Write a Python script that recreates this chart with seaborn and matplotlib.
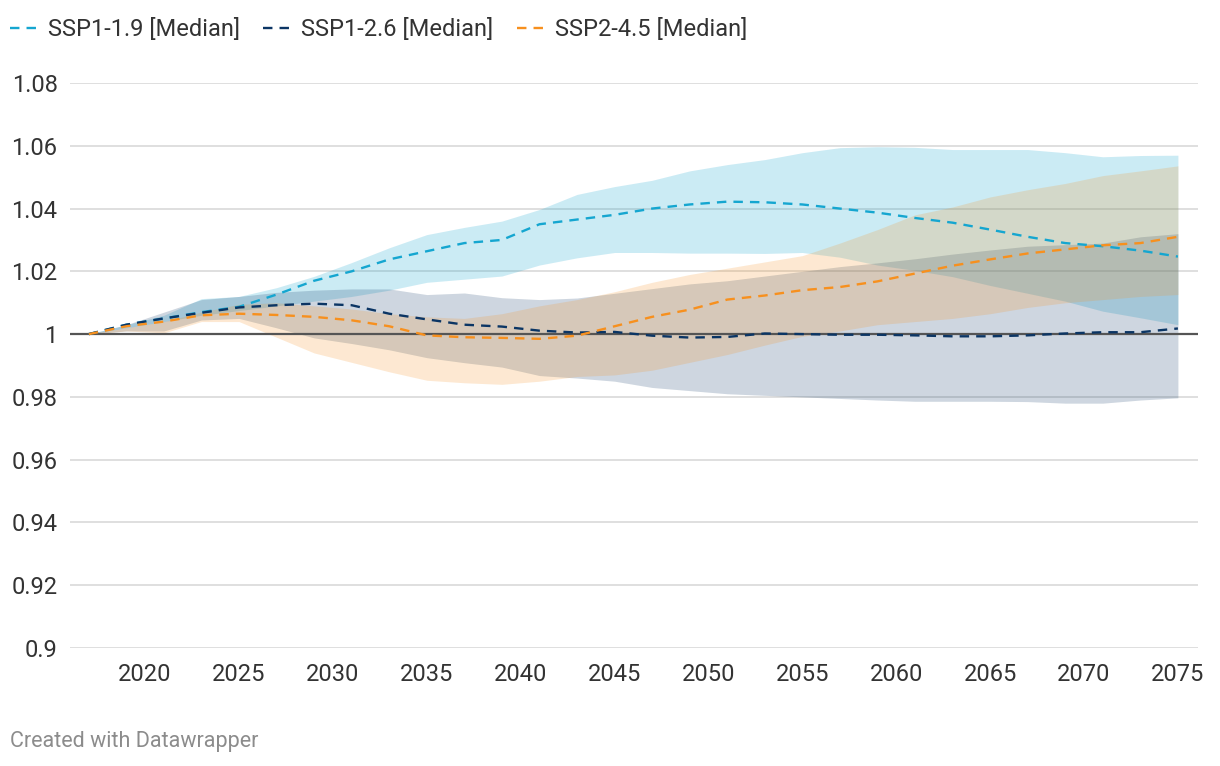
import numpy as np
import pandas as pd
import seaborn as sns
import matplotlib
matplotlib.use('Agg')
import matplotlib.pyplot as plt
from matplotlib.lines import Line2D
from matplotlib.ticker import FuncFormatter

# データ（2年おきに読み取り）
years = list(range(2017, 2076, 2))

ssp119_med = [1.000, 1.003, 1.005, 1.007, 1.0087, 1.0126, 1.017, 1.020, 1.0238, 1.0264,
              1.029, 1.030, 1.035, 1.0365, 1.038, 1.040, 1.0413, 1.0422, 1.042, 1.0413,
              1.040, 1.0387, 1.037, 1.0355, 1.0333, 1.031, 1.029, 1.028, 1.0266, 1.0247]
ssp119_lo = [1.000, 1.002, 1.004, 1.006, 1.0075, 1.009, 1.0105, 1.012, 1.014, 1.0165,
             1.0175, 1.0185, 1.022, 1.0243, 1.026, 1.026, 1.0258, 1.0258, 1.0257, 1.026,
             1.0245, 1.022, 1.0203, 1.0183, 1.0155, 1.013, 1.0105, 1.0073, 1.0052, 1.003]
ssp119_hi = [1.000, 1.003, 1.006, 1.0113, 1.012, 1.0148, 1.0184, 1.0228, 1.0275, 1.0317,
             1.034, 1.036, 1.0397, 1.0445, 1.047, 1.049, 1.052, 1.054, 1.0556, 1.0578,
             1.0594, 1.0597, 1.0595, 1.0588, 1.0588, 1.0588, 1.0578, 1.0565, 1.0569, 1.057]

ssp126_med = [1.000, 1.003, 1.005, 1.0068, 1.0085, 1.0092, 1.0097, 1.0092, 1.0065, 1.0047,
              1.003, 1.0024, 1.0011, 1.0005, 1.0007, 0.9995, 0.9989, 0.9991, 1.0002, 1.000,
              0.9998, 0.9998, 0.9996, 0.9993, 0.9993, 0.9996, 1.0002, 1.0006, 1.0006, 1.0018]
ssp126_lo = [1.000, 1.001, 1.001, 1.0045, 1.005, 1.002, 0.9988, 0.997, 0.995, 0.9925,
             0.9909, 0.9895, 0.9868, 0.986, 0.985, 0.983, 0.982, 0.981, 0.9805, 0.980,
             0.9795, 0.979, 0.9786, 0.9786, 0.9786, 0.9785, 0.978, 0.978, 0.979, 0.9797]
ssp126_hi = [1.000, 1.003, 1.007, 1.011, 1.012, 1.0133, 1.014, 1.0144, 1.0144, 1.0126,
             1.0131, 1.0116, 1.011, 1.0115, 1.013, 1.0145, 1.016, 1.017, 1.0185, 1.020,
             1.0215, 1.0227, 1.024, 1.0255, 1.0268, 1.028, 1.0285, 1.029, 1.031, 1.032]

ssp245_med = [1.000, 1.0025, 1.004, 1.006, 1.0065, 1.0061, 1.0055, 1.0044, 1.0025, 0.9996,
              0.999, 0.9988, 0.9985, 0.9995, 1.0025, 1.0055, 1.0078, 1.011, 1.0123, 1.014,
              1.015, 1.0168, 1.0193, 1.0218, 1.0238, 1.0257, 1.027, 1.0283, 1.029, 1.031]
ssp245_lo = [1.000, 1.001, 1.0004, 1.004, 1.004, 0.999, 0.994, 0.991, 0.988, 0.9853,
             0.9845, 0.984, 0.985, 0.9865, 0.987, 0.9885, 0.991, 0.9935, 0.9965, 0.9993,
             1.001, 1.003, 1.004, 1.005, 1.0065, 1.0085, 1.010, 1.011, 1.012, 1.0126]
ssp245_hi = [1.000, 1.002, 1.004, 1.007, 1.0095, 1.010, 1.009, 1.008, 1.0065, 1.0055,
             1.005, 1.0065, 1.009, 1.011, 1.0135, 1.0165, 1.019, 1.021, 1.023, 1.025,
             1.029, 1.0333, 1.038, 1.0405, 1.0437, 1.046, 1.048, 1.0505, 1.052, 1.0536]

labels = ['SSP1-1.9 [Median]', 'SSP1-2.6 [Median]', 'SSP2-4.5 [Median]']
colors = ['#15a6d0', '#0b3564', '#f7901e']
fill_alpha = [0.22, 0.2, 0.2]

yticks = [0.9, 0.92, 0.94, 0.96, 0.98, 1.0, 1.02, 1.04, 1.06, 1.08]
xticks = list(range(2020, 2076, 5))

sns.set_theme(style='white')
plt.rcParams['font.family'] = ['Roboto', 'DejaVu Sans']

fig = plt.figure(figsize=(12.2, 7.66), dpi=100)
ax = fig.add_axes([70 / 1220, 1 - 648 / 766, 1128 / 1220, (648 - 83) / 766])

meds = [ssp119_med, ssp126_med, ssp245_med]
los = [ssp119_lo, ssp126_lo, ssp245_lo]
his = [ssp119_hi, ssp126_hi, ssp245_hi]

# 幅（範囲）の塗りつぶし
for lo, hi, c, a in zip(los, his, colors, fill_alpha):
    ax.fill_between(years, lo, hi, color=c, alpha=a, lw=0, zorder=1)

# グリッド線と1の線
for v in yticks:
    if v == 1.0:
        ax.axhline(v, color='#555555', lw=1.6, zorder=3)
    else:
        ax.axhline(v, color='#d9d9d9', lw=1.2, zorder=0.5)

# 中央値（破線）
for med, c in zip(meds, colors):
    sns.lineplot(x=years, y=med, ax=ax, color=c, lw=1.7,
                 linestyle=(0, (4, 3)), zorder=4)

ax.set_xlim(2016.0, 2076.07)
ax.set_ylim(0.9, 1.08)
ax.set_xticks(xticks)
ax.set_yticks(yticks)
ax.yaxis.set_major_formatter(FuncFormatter(lambda v, p: '{:g}'.format(round(v, 2))))
ax.tick_params(axis='both', length=0, labelsize=17, labelcolor='#333333')
ax.tick_params(axis='x', pad=11)
ax.tick_params(axis='y', pad=9)
for s in ax.spines.values():
    s.set_visible(False)
ax.set_xlabel('')
ax.set_ylabel('')

# 凡例
handles = [Line2D([0], [0], color=c, lw=1.7, linestyle=(0, (4, 3))) for c in colors]
fig.legend(handles, labels, loc='center left', bbox_to_anchor=(10 / 1220, 1 - 30 / 766),
           ncol=3, frameon=False, fontsize=17, handlelength=1.15, handletextpad=0.45,
           columnspacing=1.0, labelcolor='#333333', borderpad=0, borderaxespad=0)

fig.text(10 / 1220, 1 - 741 / 766, 'Created with Datawrapper', fontsize=15.5,
         color='#8c8c8c', va='center', ha='left')

fig.savefig('out.png', dpi=100)
